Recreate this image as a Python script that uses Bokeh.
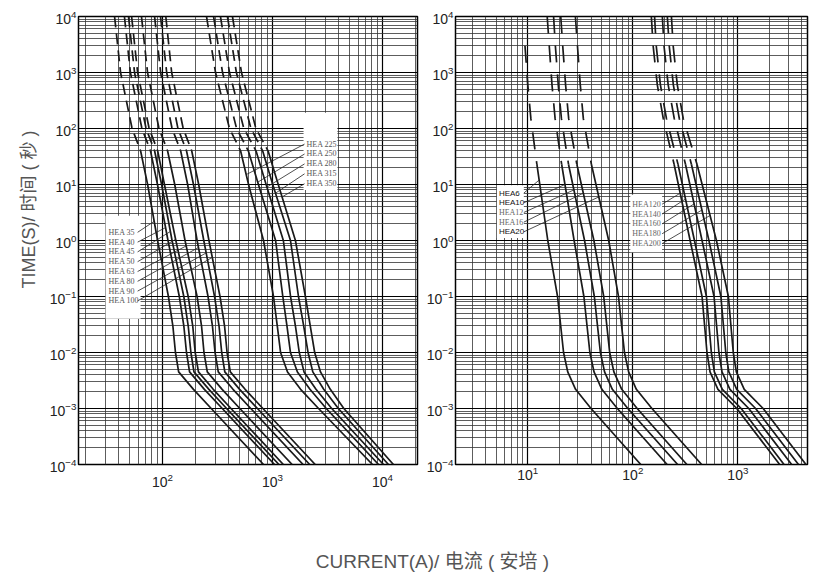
import math
import numpy as np
from bokeh.plotting import figure
from bokeh.models import (Range1d, FixedTicker, BoxAnnotation, Label, ColumnDataSource,
                          LogTickFormatter, Title)
from bokeh.layouts import column, row
from bokeh.embed import file_html
from bokeh.resources import INLINE

NAN = float("nan")

# ---------------- left panel data (current in A for each time in s) ----------------
T_LEFT = [1e4, 1e3, 1e2, 40, 10, 1, 0.1, 0.03, 0.01, 4.5e-3, 2.2e-3, 1e-3, 1e-4]
HEA35 = [36.6, 41.5, 52.8, 63.1, 73.1, 90.1, 113, 124, 131, 140, 191, 277, 828]
HEA40 = [45.0, 51.0, 64.9, 77.6, 89.9, 112, 142, 156, 165, 176, 240, 349, 1042]
HEA45 = [49.0, 55.6, 70.8, 84.6, 98.0, 122, 156, 171, 181, 193, 264, 382, 1143]
HEA50 = [52.3, 59.3, 75.5, 90.2, 104, 132, 171, 188, 198, 212, 289, 419, 1254]
HEA63 = [64.3, 73.0, 92.8, 111, 129, 160, 206, 226, 238, 255, 348, 504, 1507]
HEA80 = [84.6, 96.0, 122, 146, 169, 206, 259, 284, 300, 321, 437, 634, 1896]
HEA90 = [95.8, 109, 138, 165, 191, 237, 297, 326, 345, 368, 502, 729, 2178]
HEA100 = [107, 121, 154, 184, 213, 264, 333, 366, 386, 413, 563, 817, 2443]
HEA225 = [251, 303, 406, 512, 605, 828, 1020, 1104, 1183, 1368, 1800, 2620, 8110]
HEA250 = [291, 351, 471, 602, 744, 1066, 1240, 1352, 1455, 1683, 2189, 3078, 9205]
HEA280 = [336, 406, 548, 707, 874, 1254, 1458, 1614, 1750, 1933, 2484, 3453, 10210]
HEA315 = [389, 469, 636, 812, 1004, 1456, 1721, 1919, 2103, 2323, 2920, 3967, 11322]
HEA350 = [432, 522, 706, 910, 1127, 1615, 1989, 2202, 2416, 2729, 3352, 4449, 12562]

# ---------------- right panel data ----------------
T_RIGHT = [1e4, 3e3, 6e2, 1.5e2, 23, 1, 0.1, 0.01, 4.5e-3, 2.2e-3, 1e-3, 1e-4]
HEA6 = [NAN, 9.4, 10.0, 10.7, 12.2, 15.5, 19.2, 21.9, 24.0, 28.5, 40, 119]
HEA10 = [15.3, 16.0, 17.0, 18.2, 21.0, 27.6, 34.2, 39.0, 42.7, 50.7, 71.2, 212]
HEA12 = [17.6, 18.3, 19.5, 20.9, 24.4, 34.7, 43.0, 49.1, 53.8, 63.8, 89.6, 267]
HEA16 = [20.6, 21.5, 22.9, 24.5, 29.3, 42.6, 52.8, 60.2, 66.0, 78.4, 110, 327]
HEA20 = [28.4, 29.7, 31.6, 33.8, 40.3, 58.9, 73.0, 83.2, 91.2, 108, 152, 452]
HEA120 = [150, 156, 171, 195, 247, 351, 456, 508, 543, 646, 977, 2500]
HEA140 = [161, 167, 183, 209, 269, 386, 502, 559, 597, 711, 1075, 2750]
HEA160 = [191, 198, 217, 248, 317, 456, 593, 660, 706, 840, 1270, 3250]
HEA180 = [213, 222, 243, 277, 361, 530, 689, 767, 820, 975, 1475, 3775]
HEA200 = [233, 242, 265, 302, 408, 625, 812, 904, 967, 1150, 1740, 4450]

GROUP1_NAMES = ["HEA 35", "HEA 40", "HEA 45", "HEA 50", "HEA 63", "HEA 80", "HEA 90", "HEA 100"]
GROUP1 = [HEA35, HEA40, HEA45, HEA50, HEA63, HEA80, HEA90, HEA100]
GROUP2_NAMES = ["HEA 225", "HEA 250", "HEA 280", "HEA 315", "HEA 350"]
GROUP2 = [HEA225, HEA250, HEA280, HEA315, HEA350]
GROUPA_NAMES = ["HEA6", "HEA10", "HEA12", "HEA16", "HEA20"]
GROUPA = [HEA6, HEA10, HEA12, HEA16, HEA20]
GROUPB_NAMES = ["HEA120", "HEA140", "HEA160", "HEA180", "HEA200"]
GROUPB = [HEA120, HEA140, HEA160, HEA180, HEA200]

# leader target times (s) for each label
GROUP1_TARGET = [2.2, 1.7, 1.45, 1.05, 0.8, 0.75, 0.6, 0.5]
GROUP2_TARGET = [15, 11, 9, 7, 6]
GROUPA_TARGET = [12, 10, 8, 7, 6]
GROUPB_TARGET = [7, 5.5, 4.5, 3.5, 2.8]

Y_MAJOR = [10.0 ** e for e in range(-4, 5)]
Y_MINOR = [k * 10.0 ** e for e in range(-4, 4) for k in range(2, 10)]
XL_MAJOR = [1e2, 1e3, 1e4]
XL_MINOR = [k * 10.0 ** e for e in range(1, 5) for k in range(2, 10) if k * 10.0 ** e < 21000]
XR_MAJOR = [1e1, 1e2, 1e3]
XR_MINOR = [k * 10.0 ** e for e in range(0, 4) for k in range(2, 10) if k * 10.0 ** e < 4700]

LINE_COLOR = "#1a1a1a"
CJK = "Liberation Sans, Noto Sans CJK SC"


def log_interp(cur, times, t):
    c = np.log10(np.asarray(cur, dtype=float))
    tt = np.log10(np.asarray(times, dtype=float))
    m = ~np.isnan(c)
    return float(10 ** np.interp(math.log10(t), tt[m][::-1], c[m][::-1]))


def make_panel(width, xr, b_left, xmaj, xmin, xstand):
    p = figure(width=width, height=495, x_axis_type="log", y_axis_type="log",
               x_range=Range1d(*xr), y_range=Range1d(1e-4, 1e4),
               toolbar_location=None, output_backend="svg",
               min_border_left=b_left, min_border_right=5,
               min_border_top=16, min_border_bottom=31)
    xt = FixedTicker(ticks=xmaj, minor_ticks=xmin)
    yt = FixedTicker(ticks=Y_MAJOR, minor_ticks=Y_MINOR)
    p.xaxis.ticker = xt
    p.yaxis.ticker = yt
    p.xgrid.ticker = xt
    p.ygrid.ticker = yt
    for ax in (p.xaxis, p.yaxis):
        ax.formatter = LogTickFormatter()
        ax.major_tick_line_color = None
        ax.minor_tick_line_color = None
        ax.major_tick_out = 0
        ax.minor_tick_out = 0
        ax.major_tick_in = 0
        ax.minor_tick_in = 0
        ax.axis_line_color = None
        ax.major_label_text_font = "Liberation Sans"
        ax.major_label_text_font_size = "14px"
        ax.major_label_text_color = "#222222"
    p.xaxis.major_label_standoff = xstand
    p.yaxis.major_label_standoff = 2
    for g in (p.xgrid, p.ygrid):
        g.grid_line_color = "#000000"
        g.grid_line_width = 1.2
        g.minor_grid_line_color = "#333333"
        g.minor_grid_line_width = 0.8
    p.outline_line_color = "#000000"
    p.outline_line_width = 1.5
    p.background_fill_color = "white"
    p.border_fill_color = "white"
    return p


def draw_curves(p, curves, times, k, dash):
    for cur in curves:
        p.line(cur[:k + 1], times[:k + 1], line_color=LINE_COLOR, line_width=1.7,
               line_dash=dash)
        p.line(cur[k:], times[k:], line_color=LINE_COLOR, line_width=1.7)


def draw_legend(p, names, curves, times, targets, lab_x, t0, step, lead_x, box,
                fonts, colors, font_size="8px"):
    left, right, bottom, top = box
    p.add_layout(BoxAnnotation(left=left, right=right, bottom=bottom, top=top,
                               fill_color="white", fill_alpha=1.0, line_color=None,
                               level="underlay"))
    ys = [t0 * 10 ** (-step * i) for i in range(len(names))]
    src = ColumnDataSource(dict(x=[lab_x] * len(names), y=ys, text=names,
                                font=fonts, color=colors))
    p.text(x="x", y="y", text="text", source=src, text_font="font",
           text_font_size=font_size, text_color="color",
           text_align="left", text_baseline="middle")
    x1 = [log_interp(c, times, t) for c, t in zip(curves, targets)]
    p.segment(x0=[lead_x] * len(names), y0=ys, x1=x1, y1=targets,
              line_color="#222222", line_width=0.8)


# ---------------- left panel ----------------
left = make_panel(422, (17.2, 20800), 78, XL_MAJOR, XL_MINOR, 8)
draw_curves(left, GROUP1 + GROUP2, T_LEFT, 3, "11 6")
serif = "Liberation Serif"
draw_legend(left, GROUP1_NAMES, GROUP1, T_LEFT, GROUP1_TARGET,
            32.3, 1.40, 0.175, 59.3, (30.3, 63.1, 0.04, 2.77),
            [serif] * 8, ["#555555"] * 8)
draw_legend(left, GROUP2_NAMES, GROUP2, T_LEFT, GROUP2_TARGET,
            2037, 52.7, 0.177, 1954, (1914, 3890, 8.0, 192),
            [serif] * 5, ["#555555"] * 5)
left.add_layout(Title(text="TIME(S)/ 时间 ( 秒 )", align="right", offset=114,
                      vertical_align="top",
                      text_font=CJK, text_font_size="18px", text_font_style="normal",
                      text_color="#555555", standoff=11), "left")

# ---------------- right panel ----------------
right = make_panel(390, (2.05, 4600), 33, XR_MAJOR, XR_MINOR, 1)
draw_curves(right, GROUPA + GROUPB, T_RIGHT, 4, "17 12")
draw_legend(right, GROUPA_NAMES, GROUPA, T_RIGHT, GROUPA_TARGET,
            5.31, 7.03, 0.173, 9.17, (5.08, 9.17, 1.11, 9.7),
            ["Liberation Sans", "Liberation Sans", serif, serif, "Liberation Sans"],
            ["#111111", "#111111", "#666666", "#666666", "#111111"])
draw_legend(right, GROUPB_NAMES, GROUPB, T_RIGHT, GROUPB_TARGET,
            98.9, 4.45, 0.176, 190, (94.6, 190, 0.62, 6.65),
            [serif] * 5, ["#666666"] * 5)

# ---------------- caption ----------------
cap = figure(width=812, height=78, x_range=Range1d(0, 812), y_range=Range1d(0, 78),
             toolbar_location=None, output_backend="svg", min_border=0,
             x_axis_location=None, y_axis_location=None)
cap.outline_line_color = None
cap.grid.visible = False
cap.add_layout(Label(x=432, y=12, text="CURRENT(A)/ 电流 ( 安培 )",
                     text_align="center", text_baseline="middle",
                     text_font=CJK, text_font_size="19px", text_color="#555555"))

layout = column(row(left, right), cap)
open("out.html", "w").write(file_html(layout, INLINE))
